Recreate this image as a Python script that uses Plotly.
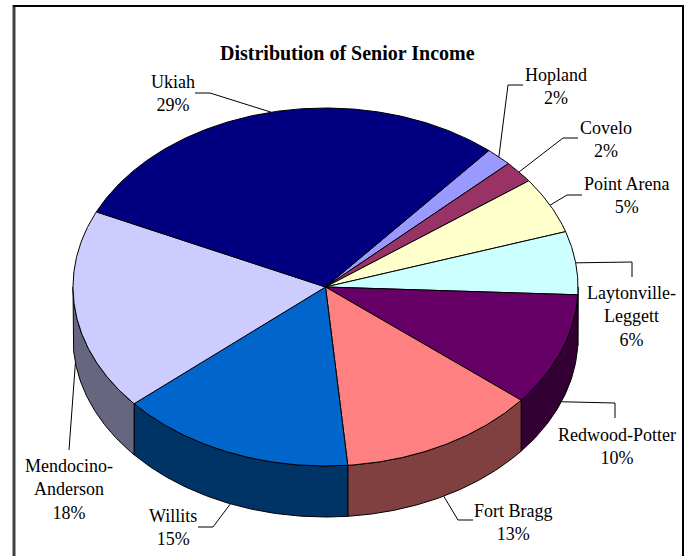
import numpy as np
import plotly.graph_objects as go

# ---- data ----
names = ["Hopland", "Covelo", "Point Arena", "Laytonville-Leggett", "Redwood-Potter",
         "Fort Bragg", "Willits", "Mendocino-Anderson", "Ukiah"]
label_text = ["Hopland", "Covelo", "Point Arena", "Laytonville-<br>Leggett", "Redwood-Potter",
              "Fort Bragg", "Willits", "Mendocino-<br>Anderson", "Ukiah"]
shares = [1.7, 2.0, 5.1, 5.7, 10.2, 12.7, 15.1, 18.2, 29.3]

top_colors = ["#9999FF", "#993366", "#FFFFCC", "#CCFFFF", "#660066",
              "#FF8080", "#0066CC", "#CCCCFF", "#000080"]
side_colors = ["#4D4D80", "#4D1A33", "#808066", "#668080", "#330033",
               "#804040", "#003366", "#666680", "#000040"]

# ---- layout / style ----
W, H = 687, 556
CX, CY, RX, RY, DEPTH = 325.5, 287.0, 252.5, 179.0, 51.0
START = 49.7  # degrees, slices run clockwise
FONT = "Liberation Serif, Times New Roman, serif"

# label block centres and leader elbows (layout positions, in pixels)
label_pos = [(556, 86), (606, 139.5), (627, 195), (631, 316), (617, 446.5),
             (513, 522.5), (172.5, 527), (69, 489), (173, 93)]
elbows = [[(508, 85), (523, 85)], [(563, 138), (578, 138)], [(567, 195), (582, 195)],
          [(632, 262), (632, 277)], [(615, 403), (615, 418)], [(458, 520), (473, 520)],
          [(213, 527), (198, 527)], [(69, 450)], [(210, 93), (195, 93)]]


def pt(deg, drop=0.0):
    r = np.radians(deg)
    return CX + RX * np.cos(r), CY - RY * np.sin(r) + drop


total = float(sum(shares))
fig = go.Figure()

bounds = []
acc = 0.0
for v in shares:
    hi = START - 360.0 * acc / total
    lo = hi - 360.0 * v / total
    bounds.append((hi, lo))
    acc += v

# side walls (front, visible part: angles in [-180, 0])
for (hi, lo), col in zip(bounds, side_colors):
    a1, a0 = min(hi, 0.0), max(lo, -180.0)
    if a1 <= a0:
        continue
    n = max(int((a1 - a0) * 2) + 2, 3)
    ang = np.linspace(a1, a0, n)
    xt, yt = pt(ang)
    xb, yb = pt(ang[::-1], DEPTH)
    xs = np.concatenate([xt, xb, xt[:1]])
    ys = np.concatenate([yt, yb, yt[:1]])
    fig.add_trace(go.Scatter(x=xs, y=ys, mode="lines", fill="toself", fillcolor=col,
                             line=dict(color="black", width=1), hoverinfo="skip",
                             showlegend=False))

# top faces
for (hi, lo), col, nm, v in zip(bounds, top_colors, names, shares):
    n = max(int((hi - lo) * 2) + 2, 3)
    ang = np.linspace(hi, lo, n)
    xa, ya = pt(ang)
    xs = np.concatenate([[CX], xa, [CX]])
    ys = np.concatenate([[CY], ya, [CY]])
    fig.add_trace(go.Scatter(x=xs, y=ys, mode="lines", fill="toself", fillcolor=col,
                             line=dict(color="black", width=1), name=nm,
                             hovertext=f"{nm}: {v / total * 100:.0f}%", hoverinfo="text",
                             showlegend=False))

# leader lines and labels
annotations = []
for (hi, lo), lbl, v, pos, elb in zip(bounds, label_text, shares, label_pos, elbows):
    mid = (hi + lo) / 2.0
    drop = DEPTH if np.sin(np.radians(mid)) < 0 else 0.0
    ax, ay = pt(mid, drop)
    xs = [ax] + [p[0] for p in elb]
    ys = [ay] + [p[1] for p in elb]
    fig.add_trace(go.Scatter(x=xs, y=ys, mode="lines", line=dict(color="black", width=1),
                             hoverinfo="skip", showlegend=False))
    pct = int(round(v / total * 100))
    annotations.append(dict(x=pos[0], y=pos[1], xref="x", yref="y", showarrow=False,
                            text=f"{lbl}<br>{pct}%", align="center",
                            xanchor="center", yanchor="middle",
                            font=dict(family=FONT, size=18, color="black")))

annotations.append(dict(x=347.5, y=53, xref="x", yref="y", showarrow=False,
                        text="<b>Distribution of Senior Income</b>",
                        xanchor="center", yanchor="middle",
                        font=dict(family=FONT, size=20, color="black")))

shapes = [
    dict(type="line", xref="x", yref="y", x0=14, x1=14, y0=5, y1=560,
         line=dict(color="#404040", width=3)),
    dict(type="line", xref="x", yref="y", x0=13, x1=684, y0=6, y1=6,
         line=dict(color="black", width=2)),
    dict(type="line", xref="x", yref="y", x0=683, x1=683, y0=5, y1=560,
         line=dict(color="black", width=2)),
]

fig.update_layout(
    width=W, height=H, autosize=False,
    margin=dict(l=0, r=0, t=0, b=0, pad=0),
    paper_bgcolor="white", plot_bgcolor="white",
    xaxis=dict(range=[0, W], visible=False, fixedrange=True),
    yaxis=dict(range=[H, 0], visible=False, fixedrange=True),
    annotations=annotations, shapes=shapes, showlegend=False,
)

fig.write_html("out.html")
